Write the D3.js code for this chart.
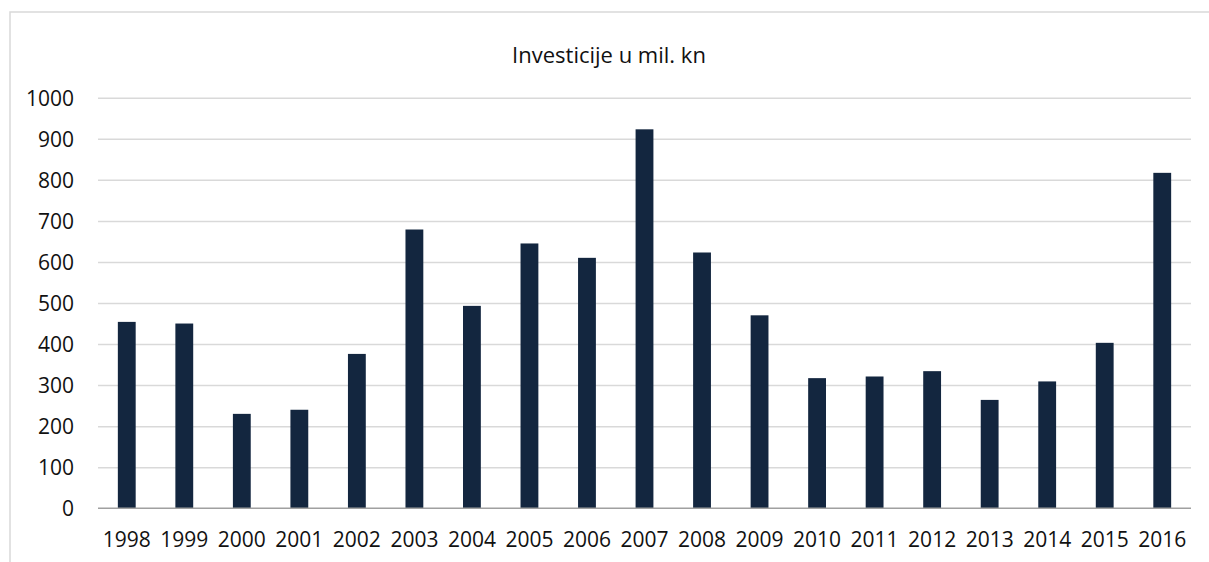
<!DOCTYPE html>
<html>
<head>
<meta charset="utf-8">
<script src="https://cdn.jsdelivr.net/npm/d3@7"></script>
<style>
  html, body { margin: 0; padding: 0; background: #ffffff; }
  svg { display: block; }
</style>
</head>
<body>
<svg id="chart" width="1209" height="562"></svg>
<script>
const years = ["1998","1999","2000","2001","2002","2003","2004","2005","2006","2007","2008","2009","2010","2011","2012","2013","2014","2015","2016"];
const investments = [454, 450, 230, 240, 376, 679, 493, 645, 610, 923, 623, 470, 317, 321, 334, 264, 309, 403, 817];
const yTicks = [0, 100, 200, 300, 400, 500, 600, 700, 800, 900, 1000];
const chartTitle = "Investicije u mil. kn";

const svg = d3.select("#chart");
const W = 1209, H = 562;
const plot = { left: 98, right: 1191, top: 97.7, bottom: 508.3 };
const font = "'Open Sans', 'Liberation Sans', sans-serif";

// outer frame
svg.append("rect")
  .attr("x", 10).attr("y", 12)
  .attr("width", W + 10).attr("height", H + 10)
  .attr("fill", "#ffffff")
  .attr("stroke", "#d9d9d9").attr("stroke-width", 1.5);

const x = d3.scaleBand().domain(years).range([plot.left, plot.right]).paddingInner(0.69).paddingOuter(0.345);
const y = d3.scaleLinear().domain([0, 1000]).range([plot.bottom, plot.top]);

// gridlines
const grid = d3.axisLeft(y).tickValues(yTicks.filter(d => d > 0)).tickSize(-(plot.right - plot.left)).tickFormat("");
svg.append("g").attr("transform", `translate(${plot.left},0)`).call(grid)
  .call(g => g.select(".domain").remove())
  .call(g => g.selectAll("line").attr("stroke", "#d9d9d9").attr("stroke-width", 1.5));

// bars
svg.append("g").selectAll("rect").data(years).join("rect")
  .attr("x", d => x(d))
  .attr("width", x.bandwidth())
  .attr("y", (d, i) => y(investments[i]))
  .attr("height", (d, i) => y(0) - y(investments[i]))
  .attr("fill", "#13263f");

// y axis labels
const yAxis = d3.axisLeft(y).tickValues(yTicks).tickSize(0).tickPadding(24).tickFormat(d3.format("d"));
svg.append("g").attr("transform", `translate(${plot.left},0)`).call(yAxis)
  .call(g => g.select(".domain").remove())
  .call(g => g.selectAll("text").attr("font-family", font).attr("font-size", 21).attr("fill", "#111").attr("dy", "0.35em"));

// x axis
const xAxis = d3.axisBottom(x).tickSize(0).tickPadding(24);
svg.append("g").attr("transform", `translate(0,${plot.bottom})`).call(xAxis)
  .call(g => g.select(".domain").attr("stroke", "#a0a0a0").attr("stroke-width", 1.5).attr("d", `M${plot.left},0H${plot.right}`))
  .call(g => g.selectAll("text").attr("font-family", font).attr("font-size", 21).attr("fill", "#111"));

// title
svg.append("text")
  .attr("x", 609).attr("y", 55)
  .attr("text-anchor", "middle").attr("dy", "0.35em")
  .attr("font-family", font).attr("font-size", 22).attr("fill", "#111")
  .text(chartTitle);
</script>
</body>
</html>
